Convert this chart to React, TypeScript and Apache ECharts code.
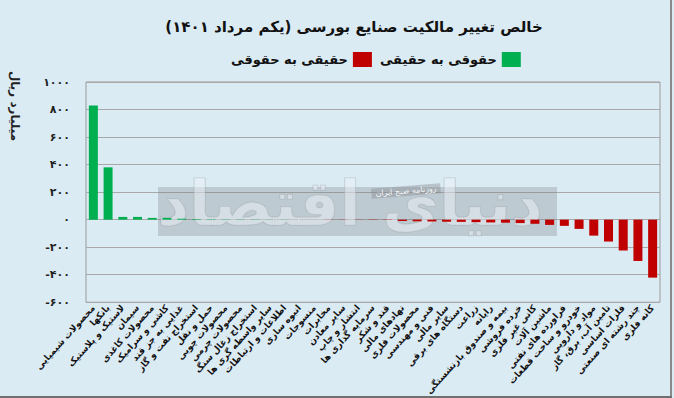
import React, { useEffect, useRef } from "react";
import * as echarts from "echarts";

// Industry groups, ordered from largest net inflow to largest net outflow
const categories: string[] = [
  "محصولات شیمیایی",
  "بانکها",
  "لاستیک و پلاستیک",
  "سیمان",
  "محصولات کاغذی",
  "کاشی و سرامیک",
  "غذایی به جز قند",
  "استخراج نفت و گاز",
  "حمل و نقل",
  "محصولات چوبی",
  "محصولات چرمی",
  "استخراج زغال سنگ",
  "سایر واسطه گری ها",
  "اطلاعات و ارتباطات",
  "انبوه سازی",
  "منسوجات",
  "مخابرات",
  "سایر معادن",
  "انتشار و چاپ",
  "سرمایه گذاری ها",
  "قند و شکر",
  "نهادهای مالی",
  "محصولات فلزی",
  "فنی و مهندسی",
  "سایر مالی",
  "دستگاه های برقی",
  "زراعت",
  "رایانه",
  "بیمه و صندوق بازنشستگی",
  "خرده فروشی",
  "کانی غیر فلزی",
  "ماشین آلات",
  "فراورده های نفتی",
  "خودرو و ساخت قطعات",
  "مواد و دارویی",
  "تامین آب، برق، گاز",
  "فلزات اساسی",
  "چند رشته ای صنعتی",
  "کانه فلزی",
];

// Net ownership change per industry (billion rials)
const netChange: number[] = [
  830, 380, 20, 20, 13, 13, 7, 4, 3, 2, 2, 1, 1, 1, 0, 0, -1, -1, -1, -2, -2,
  -10, -12, -13, -15, -16, -18, -20, -22, -25, -30, -38, -45, -67, -116, -159,
  -224, -300, -421,
];

const seriesNames = ["حقوقی به حقیقی", "حقیقی به حقوقی"];
const seriesColors = ["#00b050", "#c00000"];

const yMin = -600;
const yMax = 1000;
const yStep = 200;

const titleText = "خالص تغییر مالکیت صنایع بورسی (یکم مرداد ۱۴۰۱)";
const yAxisTitle = "میلیارد ریال";
const brandText = "دنیای اقتصاد";
const brandSub = "روزنامه صبح ایران";

const FONT = "DejaVu Sans";
const BG = "#dbebf4";

const toPersianDigits = (s: string) =>
  s.replace(/\d/g, (d) => "۰۱۲۳۴۵۶۷۸۹"[Number(d)]);

export default function App() {
  const ref = useRef<HTMLDivElement>(null);

  useEffect(() => {
    if (!ref.current) return;
    const chart = echarts.init(ref.current, null, { renderer: "svg" });

    const gainData = netChange.map((v) => (v >= 0 ? v : "-"));
    const lossData = netChange.map((v) => (v < 0 ? v : "-"));

    chart.setOption({
      animation: false,
      backgroundColor: BG,
      title: {
        text: titleText,
        left: 349,
        textAlign: "center",
        top: 14,
        textStyle: {
          fontFamily: FONT,
          fontSize: 15,
          fontWeight: "bold",
          color: "#111",
        },
      },
      legend: {
        data: [seriesNames[1], seriesNames[0]],
        left: 226,
        top: 47,
        align: "right",
        icon: "rect",
        itemWidth: 19,
        itemHeight: 15,
        itemGap: 8,
        textStyle: {
          fontFamily: FONT,
          fontSize: 13,
          fontWeight: "bold",
          color: "#111",
          padding: [0, 0, 0, 0],
        },
      },
      grid: {
        left: 86,
        right: 14,
        top: 82,
        bottom: 95,
        show: true,
        borderColor: "#9a9a9a",
        borderWidth: 1,
        containLabel: false,
      },
      xAxis: {
        type: "category",
        data: categories,
        axisLine: { onZero: false, show: false },
        axisTick: { show: false },
        axisLabel: {
          interval: 0,
          rotate: 48,
          margin: 4,
          fontFamily: FONT,
          fontSize: 9,
          fontWeight: "bold",
          color: "#111",
        },
      },
      yAxis: {
        type: "value",
        min: yMin,
        max: yMax,
        interval: yStep,
        axisLine: { show: false },
        axisTick: { show: false },
        splitLine: { lineStyle: { color: "#a8a8a8", width: 1 } },
        axisLabel: {
          margin: 16,
          fontFamily: FONT,
          fontSize: 11,
          fontWeight: "bold",
          color: "#222",
          formatter: (v: number) => toPersianDigits(String(v)),
        },
      },
      series: [
        {
          name: seriesNames[0],
          type: "bar",
          data: gainData,
          barWidth: 9,
          barGap: "-100%",
          itemStyle: { color: seriesColors[0] },
          z: 3,
        },
        {
          name: seriesNames[1],
          type: "bar",
          data: lossData,
          barWidth: 9,
          barGap: "-100%",
          itemStyle: { color: seriesColors[1] },
          z: 3,
        },
      ],
      graphic: [
        {
          type: "text",
          x: 15,
          y: 106,
          rotation: -Math.PI / 2,
          style: {
            text: yAxisTitle,
            fontFamily: FONT,
            fontSize: 12,
            fontWeight: "bold",
            fill: "#222",
            align: "center",
            verticalAlign: "middle",
          },
        },
        {
          type: "rect",
          z: 1,
          shape: { x: 158, y: 187, width: 399, height: 49 },
          style: { fill: "rgba(120,125,130,0.3)" },
        },
        {
          type: "text",
          z: 1,
          x: 350,
          y: 203,
          style: {
            text: brandText,
            fontFamily: FONT,
            fontSize: 62,
            fontWeight: "bold",
            fill: "rgba(235,242,247,0.5)",
            stroke: "rgba(150,155,160,0.4)",
            lineWidth: 1.2,
            align: "center",
            verticalAlign: "middle",
          },
        },
        {
          type: "text",
          z: 1,
          x: 406,
          y: 191,
          rotation: 0.08,
          style: {
            text: brandSub,
            fontFamily: FONT,
            fontSize: 8,
            fill: "rgba(255,255,255,0.9)",
            backgroundColor: "rgba(140,145,150,0.45)",
            padding: [1, 4],
            align: "center",
            verticalAlign: "middle",
          },
        },
        {
          type: "line",
          shape: { x1: 671, y1: 0, x2: 671, y2: 396 },
          style: { stroke: "#8a8a8a", lineWidth: 2 },
        },
        {
          type: "line",
          shape: { x1: 0, y1: 397, x2: 672, y2: 397 },
          style: { stroke: "#6f6f6f", lineWidth: 2 },
        },
      ],
    });

    return () => chart.dispose();
  }, []);

  return (
    <div
      ref={ref}
      style={{ position: "absolute", left: 0, top: 0, width: 674, height: 398 }}
    />
  );
}
